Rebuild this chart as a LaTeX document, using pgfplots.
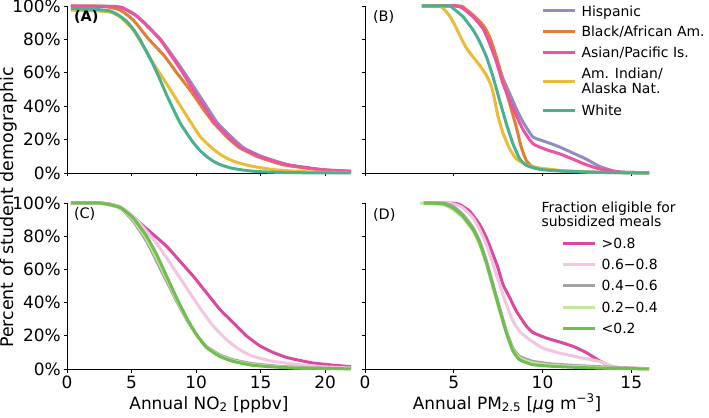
\documentclass[border=0pt]{standalone}
\usepackage{pgfplots}
\pgfplotsset{compat=1.18}
\usepackage{fontspec}
\setmainfont{DejaVu Sans}

\definecolor{chis}{HTML}{918DC2}
\definecolor{cblk}{HTML}{E07F35}
\definecolor{casn}{HTML}{EC54A1}
\definecolor{caml}{HTML}{EBBC35}
\definecolor{cwht}{HTML}{49B192}
\definecolor{csa}{HTML}{D9499F}
\definecolor{csb}{HTML}{F4C5E1}
\definecolor{csc}{HTML}{A3A3A3}
\definecolor{csd}{HTML}{C6E79E}
\definecolor{cse}{HTML}{71BD51}

\newcommand\lent[1]{\smash{\raisebox{-5.1bp}{#1}}}

\pgfplotsset{
  panel/.style={
    scale only axis, width=284bp, anchor=south west,
    axis lines*=left, tick align=outside, major tick length=3.5bp,
    axis line style={line width=0.8bp, black},
    every tick/.style={line width=0.8bp, black},
    ymin=0, ymax=100, ytick={0,20,40,60,80,100},
    tick label style={font=\fontsize{17}{20}\selectfont},
    yticklabel style={inner sep=0pt, xshift=-2.5bp},
    xticklabel style={inner sep=0pt, yshift=-3.5bp},
    clip=false,
    every axis plot/.append style={line width=3bp, smooth, tension=0.3, no markers},
    legend image code/.code={\draw[#1] (0bp,0bp) -- (32bp,0bp);},
    legend cell align=left,
  },
  ylab/.style={yticklabels={0\%,20\%,40\%,60\%,80\%,100\%}},
  noylab/.style={yticklabels={}},
}

\begin{document}
\begin{tikzpicture}[x=1bp,y=1bp]
\useasboundingbox (0,0) rectangle (709,417);

% ---------------- Panel A ----------------
\begin{axis}[panel, ylab, at={(67bp,244bp)}, height=167bp,
  xmin=0, xmax=22, xtick={0,5,10,15,20}, xticklabels={}]
\addplot[chis] coordinates {(0.3,100) (3.5,99.8) (4.3,99) (5.25,95) (6.0,90) (7.25,80) (8.2,70) (9.1,60) (9.95,50) (10.8,40) (11.65,30) (12.95,20) (13.7,15) (15.05,10) (17.1,5) (19.8,2) (22,1.1)};
\addplot[cblk] coordinates {(0.3,100) (2.8,99.8) (4.1,97.6) (5.13,91.6) (6.35,80) (7.55,70) (8.5,60) (9.5,50) (10.4,40) (11.35,30) (12.6,20) (13.4,15) (14.7,10) (16.7,5) (19.5,2) (22,0.7)};
\addplot[casn] coordinates {(0.3,100) (3.5,99.7) (4.3,98.8) (5.2,95) (5.95,90) (7.2,80) (8.1,70) (8.97,60) (9.75,50) (10.6,40) (11.45,30) (12.75,20) (13.5,15) (14.9,10) (17,5) (19.7,2) (22,1)};
\addplot[caml] coordinates {(0.3,97.5) (2.5,97) (3.5,96) (4.2,93) (5.1,86) (5.9,76) (6.7,65.5) (7.5,56) (8.2,47.5) (9.0,37.5) (9.7,29) (10.3,22) (11.0,16.5) (11.8,11.5) (12.6,8) (13.4,5.8) (14.5,3.8) (16,2) (18,0.9) (20,0.4) (22,0.2)};
\addplot[cwht] coordinates {(0.3,98.5) (2.5,97.8) (3.35,97) (4.0,94.5) (4.64,90.6) (5.2,85.5) (5.67,79.7) (6.2,72) (6.7,64.5) (7.2,56) (7.73,46.5) (8.25,38) (8.76,30) (9.3,23.5) (9.8,18) (10.3,13.5) (10.8,10) (11.3,7.2) (11.86,5) (12.6,3.2) (13.4,2) (14.5,1) (15.5,0.6) (17,0.25) (19,0.1) (22,0.05)};
\end{axis}

% ---------------- Panel B ----------------
\begin{axis}[panel, noylab, at={(365bp,244bp)}, height=167bp,
  xmin=0, xmax=16, xtick={0,5,10,15}, xticklabels={},
  legend style={draw=none, fill=none, at={(0.6197,1.012)}, anchor=north west,
    inner sep=0pt, outer sep=0pt, row sep=6.7bp,
    font=\fontsize{14}{15}\selectfont,
    nodes={inner sep=0pt, text height=7bp, text depth=7bp},
    /tikz/every odd column/.append style={column sep=5.5bp}}]
\addplot[chis] coordinates {(3.2,100) (5.15,100) (5.52,98.6) (6.09,93.6) (6.65,86.6) (7.02,78) (7.40,68) (7.77,56.6) (8.15,47.6) (8.52,38.6) (8.90,30.6) (9.46,21.6) (10.21,18.6) (10.96,15.6) (11.71,12) (12.45,8.4) (13.2,4) (13.95,1.4) (14.5,0.5) (16,0.1)};
\addlegendentry{\lent{Hispanic}}
\addplot[cblk] coordinates {(3.2,100) (5.34,100) (5.62,98.6) (6.09,94.6) (6.65,88.6) (7.02,81.6) (7.40,69.6) (7.77,55.6) (8.15,41.6) (8.52,27.6) (8.80,15.6) (9.08,7.6) (9.46,3.6) (10.21,2) (11.52,1) (13.39,0.4) (16,0.05)};
\addlegendentry{\lent{Black/African Am.}}
\addplot[casn] coordinates {(3.2,100) (5.15,100) (5.52,98.6) (6.09,93.6) (6.65,86.6) (7.02,77.6) (7.40,66.6) (7.77,53.6) (8.15,43.6) (8.52,34.6) (8.90,26) (9.46,17.5) (10.21,14) (10.96,11.5) (11.71,8.3) (12.45,5) (13.2,2.5) (13.95,1) (14.5,0.5) (16,0.1)};
\addlegendentry{\lent{Asian/Pacific Is.}}
\addplot[caml] coordinates {(3.2,100) (4.2,100) (4.5,97.5) (4.8,93.5) (5.06,88.6) (5.34,82.5) (5.7,75) (6.09,69.5) (6.46,64.5) (6.84,58.5) (7.12,52) (7.3,44) (7.49,34) (7.77,24) (8.15,14.5) (8.52,8.5) (9.08,5) (9.83,3) (10.96,1.6) (12.45,0.6) (14,0.2) (16,0.05)};
\addlegendentry[text height=16.3bp, text depth=14bp]{\smash{\rlap{\raisebox{-11.55bp}{Alaska Nat.}}\raisebox{3.45bp}{Am. Indian/}}}
\addplot[cwht] coordinates {(3.2,100) (4.78,100) (4.96,98.6) (5.52,93.6) (6.09,85.6) (6.46,78.6) (6.84,69.6) (7.21,57.6) (7.58,43.6) (7.96,29.6) (8.33,17.6) (8.71,8.6) (9.08,4.6) (9.83,2.2) (10.96,1.2) (12.45,0.6) (14,0.2) (16,0.05)};
\addlegendentry{\lent{White}}
\end{axis}

% ---------------- Panel C ----------------
\begin{axis}[panel, ylab, at={(67bp,48bp)}, height=166bp,
  xmin=0, xmax=22, xtick={0,5,10,15,20}, xticklabels={0,5,10,15,20}]
\addplot[csa] coordinates {(0.3,100) (2.55,100) (3.58,99) (4.61,95) (5.65,88) (6.68,81) (7.71,74) (8.74,65) (9.77,56) (10.8,46) (11.83,36) (12.86,28) (13.9,20) (14.93,14) (15.96,10) (17,7) (18.02,5.2) (19.07,3.6) (20.5,2.4) (22,1.4)};
\addplot[csb] coordinates {(0.3,100) (2.55,100) (4.1,98) (5.13,92) (6.16,83) (7.19,73) (8.22,61) (9.25,49) (10.28,37) (11.32,26) (12.35,17.7) (13.38,11.6) (14.41,7.6) (15.96,4.6) (18.02,2.6) (20,1.3) (22,0.6)};
\addplot[csc] coordinates {(0.3,100) (2.55,100) (4.1,97) (5.13,89) (6.16,77) (6.94,65) (7.71,53) (8.48,41) (9.25,30) (10.03,20.7) (10.8,13.6) (11.83,8.6) (12.86,5.6) (14.41,3.2) (16.47,1.6) (18.02,1) (20,0.5) (22,0.3)};
\addplot[csd] coordinates {(0.3,100) (2.55,100) (4.1,97.2) (5.13,90) (6.16,78.5) (6.94,67) (7.71,54.5) (8.48,42) (9.25,30.5) (10.03,20.7) (10.8,13.2) (11.83,8) (12.86,5) (14.41,2.6) (16.47,1.2) (18.02,0.6) (22,0.2)};
\addplot[cse] coordinates {(0.3,100) (2.55,100) (4.1,97.4) (5.13,91) (6.16,80) (6.94,69) (7.71,56) (8.48,43) (9.25,31) (10.03,20.7) (10.8,13) (11.83,7.6) (12.86,4.6) (14.41,2.2) (16.47,1) (18.02,0.5) (22,0.1)};
\end{axis}

% ---------------- Panel D ----------------
\begin{axis}[panel, noylab, at={(365bp,48bp)}, height=166bp,
  xmin=0, xmax=16, xtick={0,5,10,15}, xticklabels={0,5,10,15},
  legend style={draw=none, fill=none, at={(0.6926,0.7994)}, anchor=north west,
    inner sep=0pt, outer sep=0pt, row sep=7.25bp,
    font=\fontsize{14}{15}\selectfont,
    nodes={inner sep=0pt, text height=7bp, text depth=7bp},
    /tikz/every odd column/.append style={column sep=5bp}}]
\addplot[csa] coordinates {(3.3,100) (4.96,99.9) (5.34,99) (5.90,95) (6.46,87) (6.84,79) (7.21,69) (7.49,61) (7.77,51) (8.15,43) (8.52,35) (9.08,26) (9.46,22) (10.21,18.7) (10.96,16.3) (11.71,13.7) (12.45,10) (13.2,5) (13.77,2) (14.33,0.8) (16,0.2)};
\addlegendentry{\lent{>0.8}}
\addplot[csb] coordinates {(3.3,100) (4.96,99.5) (5.52,97) (6.09,91) (6.46,84) (6.84,75) (7.21,63) (7.58,51) (7.96,39) (8.33,29) (8.71,22.7) (9.27,17.7) (10.02,12.6) (10.96,9.6) (12.08,7) (13.2,4.6) (13.95,1.6) (14.5,0.6) (16,0.2)};
\addlegendentry{\lent{0.6−0.8}}
\addplot[csc] coordinates {(3.3,100) (4.4,100) (4.96,98) (5.52,93) (6.09,85) (6.46,77) (6.84,65) (7.21,51) (7.58,37) (7.96,23) (8.33,12.6) (8.71,7.6) (9.46,4.6) (10.58,3) (12.08,2) (13.58,1.2) (15,0.4) (16,0.2)};
\addlegendentry{\lent{0.4−0.6}}
\addplot[csd] coordinates {(3.1,100) (4.4,99) (4.96,96) (5.52,91) (6.09,83) (6.46,75) (6.84,63) (7.21,49) (7.58,35) (7.96,21.7) (8.33,11.6) (8.71,6.6) (9.46,3.6) (10.58,2.2) (12.08,1.4) (14,0.5) (16,0.15)};
\addlegendentry{\lent{0.2−0.4}}
\addplot[cse] coordinates {(3.3,100) (4.4,99.5) (4.96,97) (5.52,92) (6.09,84) (6.46,76) (6.84,64) (7.21,50) (7.58,36) (7.96,22) (8.33,11) (8.71,5.5) (9.46,2.6) (10.58,1.6) (12.08,0.9) (14,0.3) (16,0.1)};
\addlegendentry{\lent{<0.2}}
\end{axis}

% ---------------- Texts ----------------
\node[anchor=base west, inner sep=0pt, font=\fontsize{14.5}{17}\selectfont\bfseries] at (73.8,395.6) {(A)};
\node[anchor=base west, inner sep=0pt, font=\fontsize{14.5}{17}\selectfont] at (372.8,395.5) {(B)};
\node[anchor=base west, inner sep=0pt, font=\fontsize{14.5}{17}\selectfont] at (73.8,198.5) {(C)};
\node[anchor=base west, inner sep=0pt, font=\fontsize{14.5}{17}\selectfont] at (372.8,197.5) {(D)};
\node[anchor=base west, inner sep=0pt, font=\fontsize{14}{17}\selectfont] at (541.4,205) {Fraction eligible for};
\node[anchor=base west, inner sep=0pt, font=\fontsize{14}{17}\selectfont] at (541.4,190.5) {subsidized meals};
\node[rotate=90, anchor=north, inner sep=0pt, font=\fontsize{17.5}{20}\selectfont] at (0,209.5) {Percent of student demographic};
\node[anchor=base, inner sep=0pt, font=\fontsize{17}{20}\selectfont] at (209,8) {Annual NO\textsubscript{2} [ppbv]};
\node[anchor=base, inner sep=0pt, font=\fontsize{17}{20}\selectfont] at (507,8) {Annual PM\textsubscript{2.5} [{\itshape μ}g m\textsuperscript{−3}]};
\end{tikzpicture}
\end{document}
